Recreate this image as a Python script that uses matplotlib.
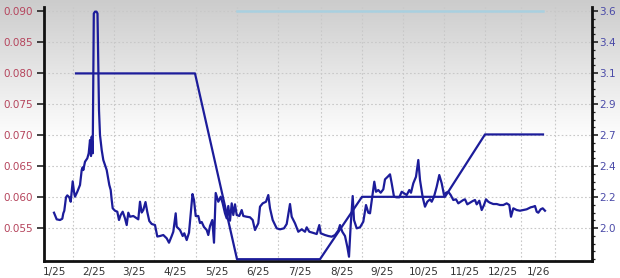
import numpy as np
import matplotlib
matplotlib.use("Agg")
import matplotlib.pyplot as plt
from matplotlib.ticker import FixedLocator, FixedFormatter, NullFormatter

# ---------------- data ----------------
# x positions are in the chart's own (trading-period) axis units
month_labels = ["1/25", "2/25", "3/25", "4/25", "5/25", "6/25", "7/25",
                "8/25", "9/25", "10/25", "11/25", "12/25", "1/26"]
month_starts = [-7, 29, 70, 110, 152, 193, 234, 277, 318, 359, 400, 441, 477, 511]

yield_x = [10, 12.7, 16, 18.3, 19.3, 20.3, 22, 23.3, 25.3, 26.7, 28.7, 30, 31, 33.3, 36,
           37.7, 38.7, 39.3, 41, 43.3, 44.7, 46, 47, 47.7, 48.7, 49.8, 51, 52.5, 53.5, 55,
           56, 57.7, 59.3, 62.7, 65.3, 66.7, 67.7, 68.7, 71, 73.3, 75, 76.7, 78.7, 81, 82.7,
           84.3, 86, 89.3, 92.7, 94.3, 96, 97.7, 99.3, 101.5, 103.3, 105.3, 107.7, 111, 113.3,
           116, 119.3, 122.7, 125, 127.7, 129.3, 131.7, 132.7, 136, 138.7, 140.3, 142.7, 145,
           148.5, 150, 151.7, 154.3, 156, 157.7, 160, 162.7, 164.3, 166, 168.3, 170, 171.7,
           174.3, 176.7, 178.7, 181, 182.7, 184.3, 186, 187.7, 189.3, 191, 192.7, 195.3, 197.7,
           199.3, 202.7, 206, 208.7, 211, 214.3, 216, 218.7, 222, 224.3, 226, 228.7, 232.7,
           236, 240, 242.7, 246, 247.7, 251, 254.3, 257.7, 261, 262.7, 265.3, 268.7, 272.7,
           275.3, 276.7, 281, 284.3, 287.7, 291, 294.3, 296, 298.3, 301, 303.3, 305, 306.7,
           308.7, 310, 312.7, 316, 319.3, 322, 324.3, 326, 328.7, 330.3, 332, 334.3, 336.7,
           339.3, 341, 343.7, 346, 347.7, 350, 352.7, 355.3, 357.7, 360, 362.7, 365.3, 367,
           369.3, 372, 374.3, 376, 378.7, 381, 383.3, 386, 387.7, 390, 392.7, 395.3, 397.7,
           400, 402, 404.3, 406.7, 409.3, 412, 414.3, 416.7, 419.3, 421, 423.3, 426, 428.7,
           431, 432.7, 435.3, 437.7, 440, 442, 444.3, 446, 449.3, 452.7, 456, 459.3, 462.7,
           465.3, 467, 469.3, 472.7, 476, 479.3, 482.7, 486.7, 489.3, 491, 492.7, 494.3,
           496.7, 498.7, 501]
yield_v = [0.05747, 0.05640, 0.05629, 0.05650, 0.05737, 0.05779, 0.05995, 0.06027, 0.05995,
           0.05924, 0.06253, 0.06085, 0.06005, 0.06085, 0.06194, 0.06435, 0.06479, 0.06435,
           0.06569, 0.06624, 0.06705, 0.06919, 0.06661, 0.06973, 0.06705, 0.08960, 0.08990,
           0.08990, 0.08960, 0.07400, 0.07000, 0.06758, 0.06597, 0.06435, 0.06194, 0.06113,
           0.05952, 0.05818, 0.05779, 0.05763, 0.05629, 0.05710, 0.05763, 0.05656, 0.05548,
           0.05747, 0.05682, 0.05694, 0.05656, 0.05640, 0.05924, 0.05750, 0.05790, 0.05919,
           0.05758, 0.05613, 0.05565, 0.05548, 0.05363, 0.05371, 0.05387, 0.05334, 0.05263,
           0.05371, 0.05440, 0.05737, 0.05521, 0.05468, 0.05371, 0.05415, 0.05306, 0.05424,
           0.06048, 0.05952, 0.05694, 0.05694, 0.05581, 0.05597, 0.05516, 0.05468, 0.05387,
           0.05532, 0.05629, 0.05263, 0.06065, 0.05924, 0.06005, 0.05898, 0.05737, 0.05656,
           0.05855, 0.05618, 0.05898, 0.05710, 0.05882, 0.05710, 0.05694, 0.05790, 0.05694,
           0.05682, 0.05673, 0.05629, 0.05468, 0.05576, 0.05844, 0.05898, 0.05924, 0.06032,
           0.05818, 0.05629, 0.05495, 0.05479, 0.05495, 0.05565, 0.05887, 0.05682, 0.05576,
           0.05440, 0.05479, 0.05440, 0.05511, 0.05440, 0.05424, 0.05403, 0.05548, 0.05415,
           0.05387, 0.05371, 0.05360, 0.05387, 0.05460, 0.05548, 0.05440, 0.05371, 0.05198,
           0.05037, 0.05548, 0.06016, 0.05629, 0.05495, 0.05511, 0.05602, 0.05871, 0.05747,
           0.05737, 0.06060, 0.06247, 0.06085, 0.06113, 0.06069, 0.06124, 0.06285, 0.06327,
           0.06366, 0.06221, 0.06005, 0.05995, 0.05995, 0.06085, 0.06060, 0.06032, 0.06113,
           0.06069, 0.06221, 0.06327, 0.06597, 0.06274, 0.05995, 0.05844, 0.05924, 0.05963,
           0.05924, 0.06005, 0.06166, 0.06355, 0.06221, 0.06032, 0.06069, 0.06085, 0.06032,
           0.05952, 0.05963, 0.05898, 0.05924, 0.05952, 0.05963, 0.05882, 0.05908, 0.05935,
           0.05952, 0.05882, 0.05940, 0.05790, 0.05871, 0.05963, 0.05924, 0.05908, 0.05887,
           0.05887, 0.05871, 0.05871, 0.05898, 0.05871, 0.05682, 0.05818, 0.05790, 0.05779,
           0.05790, 0.05802, 0.05834, 0.05844, 0.05855, 0.05763, 0.05747, 0.05802, 0.05818,
           0.05779]

target_x = [32, 151, 193, 276, 318, 401, 441, 499]
target_v = [3.14, 3.14, 1.77, 1.77, 2.23, 2.23, 2.69, 2.69]

cap_x = [193, 499]
cap_v = [3.6, 3.6]

left_ticks = [0.055, 0.060, 0.065, 0.070, 0.075, 0.080, 0.085, 0.090]
left_tick_labels = ["0.055", "0.060", "0.065", "0.070", "0.075", "0.080", "0.085", "0.090"]
right_tick_labels = ["2.0", "2.2", "2.4", "2.7", "2.9", "3.1", "3.4", "3.6"]

# ---------------- styling ----------------
LINE = "#1c1c9a"
LEFT_C = "#b5445c"
RIGHT_C = "#4a4aa8"
XLAB_C = "#333333"
GRID_C = "#c8c8c8"

W, H = 620, 278
fig = plt.figure(figsize=(W / 100, H / 100), dpi=100)

# gradient background over the whole figure
bg = fig.add_axes([0, 0, 1, 1], zorder=-10)
grad = np.ones((H, 1))
rows = np.arange(H)
grad[:, 0] = np.clip(0.80 + 0.20 * rows / 140.0, 0, 1)
bg.imshow(np.dstack([grad, grad, grad]), aspect="auto", extent=[0, 1, 0, 1], origin="upper")
bg.axis("off")

ax_l, ax_r, ax_b, ax_t = 44 / W, 592 / W, (H - 261) / H, (H - 7) / H
ax = fig.add_axes([ax_l, ax_b, ax_r - ax_l, ax_t - ax_b])
ax.set_facecolor("none")

ylo, yhi = 0.04968, 0.09065
ax.set_ylim(ylo, yhi)
ax.set_xlim(0, 548)

def to_right(v):
    return 2.0 + (v - 0.055) * 1.6 / 0.035

ax2 = ax.twinx()
ax2.set_ylim(to_right(ylo), to_right(yhi))

# grid
for xs in month_starts[1:]:
    ax.axvline(xs, color=GRID_C, lw=0.8, ls=(0, (1.5, 2)), zorder=0)
for yv in left_ticks:
    ax.axhline(yv, color=GRID_C, lw=0.8, ls=(0, (1.5, 2)), zorder=0)

# series
ax.plot(yield_x, yield_v, color=LINE, lw=1.6, solid_joinstyle="round", zorder=3)
ax2.plot(target_x, target_v, color=LINE, lw=1.6, zorder=3)
ax2.plot(cap_x, cap_v, color="#a9d0e0", lw=1.8, zorder=2)

# left axis
ax.yaxis.set_major_locator(FixedLocator(left_ticks))
ax.yaxis.set_major_formatter(FixedFormatter(left_tick_labels))
ax.tick_params(axis="y", which="major", direction="out", length=5, width=1.2,
               color="#222222", labelcolor=LEFT_C, labelsize=7.5, pad=3)

# x axis labels centred in each month
centers = [(month_starts[i] + month_starts[i + 1]) / 2 for i in range(len(month_labels))]
ax.xaxis.set_major_locator(FixedLocator(centers))
ax.xaxis.set_major_formatter(FixedFormatter(month_labels))
ax.tick_params(axis="x", which="major", length=0, labelcolor=XLAB_C, labelsize=7.5, pad=4)

# right axis
rpos = list(np.linspace(2.0, 3.6, 8))
ax2.yaxis.set_major_locator(FixedLocator(rpos))
ax2.yaxis.set_major_formatter(FixedFormatter(right_tick_labels))
step = (rpos[1] - rpos[0]) / 4
minors = np.arange(rpos[0] - 4 * step, rpos[-1] + step / 2, step)
ax2.yaxis.set_minor_locator(FixedLocator(minors))
ax2.yaxis.set_minor_formatter(NullFormatter())
ax2.tick_params(axis="y", which="major", direction="out", length=4, width=1.2,
                color="#222222", labelcolor=RIGHT_C, labelsize=7.5, pad=1.5)
ax2.tick_params(axis="y", which="minor", direction="out", length=2.5, width=0.9, color="#222222")

for a in (ax, ax2):
    a.spines["top"].set_visible(False)
    a.spines["left"].set_linewidth(2)
    a.spines["right"].set_linewidth(2)
    a.spines["bottom"].set_linewidth(2)
    for s in a.spines.values():
        s.set_color("#111111")
ax2.spines["left"].set_visible(False)
ax2.spines["bottom"].set_visible(False)
ax.spines["right"].set_visible(False)
ax2.set_facecolor("none")

fig.savefig("out.png", dpi=100)
